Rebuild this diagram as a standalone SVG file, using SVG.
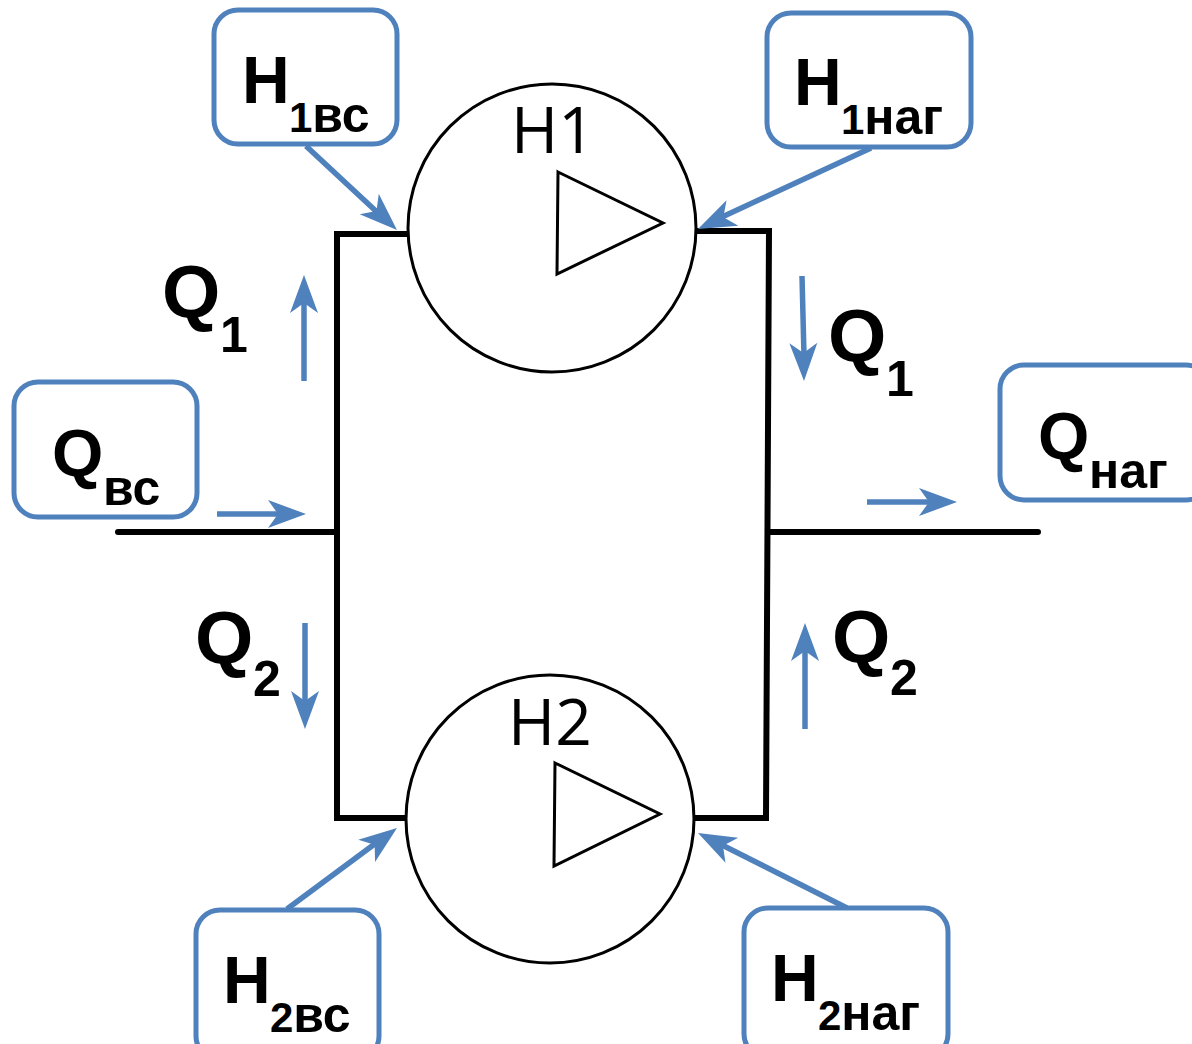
<svg xmlns="http://www.w3.org/2000/svg" width="1192" height="1044" viewBox="0 0 1192 1044">
<style>
.box{fill:#fff;stroke:#4f81bd;stroke-width:5}
.pipe{fill:none;stroke:#000;stroke-width:6;stroke-linecap:round;stroke-linejoin:miter}
.thin{fill:#fff;stroke:#000;stroke-width:3}
.tri{fill:none;stroke:#000;stroke-width:3;stroke-linejoin:miter}
.ar{fill:none;stroke:#4f81bd;stroke-width:5.5}
.ah{fill:#4f81bd;stroke:none}
.b{font-family:"Liberation Sans",Arial,sans-serif;font-weight:700;fill:#000}
.s{font-size:50px}
.n{font-family:"Open Sans","DejaVu Sans",sans-serif;font-size:64px;fill:#000}
</style>
<defs><path id="h" class="ah" d="M0,0 L-38,-14 L-28,0 L-38,14 Z"/></defs>
<rect width="1192" height="1044" fill="#fff"/>
<g id="pipes">
<path class="pipe" d="M410,234H337V818H406"/>
<path class="pipe" d="M694,231H769L766,818H694"/>
<path class="pipe" d="M118,532H337"/>
<path class="pipe" d="M768,532H1038"/>
</g>
<g id="pump1"><circle class="thin" cx="552" cy="228" r="144"/><path class="tri" d="M558,172L663,223L557,274Z"/><text class="n" x="553" y="153" text-anchor="middle">H1</text></g>
<g id="pump2"><circle class="thin" cx="550" cy="819" r="144"/><path class="tri" d="M555,763L660,814L554,866Z"/><text class="n" x="550" y="745" text-anchor="middle">H2</text></g>
<g id="connectors">
<path class="ar" d="M306,146L378,213"/><use href="#h" transform="translate(397,230) rotate(43)"/>
<path class="ar" d="M871,148L722,217"/><use href="#h" transform="translate(698,229) rotate(155)"/>
<path class="ar" d="M287,909L376,843"/><use href="#h" transform="translate(397,828) rotate(-37)"/>
<path class="ar" d="M847,908L722,845"/><use href="#h" transform="translate(698,833) rotate(207)"/>
<path class="ar" d="M304,381V300"/><use href="#h" transform="translate(304,275) rotate(-90)"/>
<path class="ar" d="M802,276L804,356"/><use href="#h" transform="translate(804,381) rotate(89)"/>
<path class="ar" d="M305,623V704"/><use href="#h" transform="translate(305,729) rotate(90)"/>
<path class="ar" d="M805,729V648"/><use href="#h" transform="translate(805,623) rotate(-90)"/>
<path class="ar" d="M217,514H281"/><use href="#h" transform="translate(306,514)"/>
<path class="ar" d="M867,502H932"/><use href="#h" transform="translate(957,502)"/>
</g>
<g id="h1vs"><rect class="box" x="214" y="10" width="183" height="134" rx="24"/><text class="b" x="242" y="103" font-size="66">H</text><text class="b" x="289" y="132" font-size="42">1<tspan class="s">вс</tspan></text></g>
<g id="h1nag"><rect class="box" x="767" y="13" width="204" height="134" rx="24"/><text class="b" x="794" y="105" font-size="66">H</text><text class="b" x="841" y="134" font-size="42">1<tspan class="s">наг</tspan></text></g>
<g id="qvs"><rect class="box" x="14" y="382" width="183" height="135" rx="24"/><text class="b" x="52" y="476" font-size="66">Q</text><text class="b s" x="103" y="505">вс</text></g>
<g id="qnag"><rect class="box" x="1000" y="365" width="210" height="135" rx="24"/><text class="b" x="1038" y="459" font-size="66">Q</text><text class="b s" x="1089" y="488">наг</text></g>
<g id="h2vs"><rect class="box" x="196" y="910" width="183" height="150" rx="24"/><text class="b" x="223" y="1003" font-size="66">H</text><text class="b" x="270" y="1032" font-size="42">2<tspan class="s">вс</tspan></text></g>
<g id="h2nag"><rect class="box" x="744" y="908" width="204" height="150" rx="24"/><text class="b" x="771" y="1001" font-size="66">H</text><text class="b" x="818" y="1030" font-size="42">2<tspan class="s">наг</tspan></text></g>
<g id="labels">
<text class="b" x="162" y="317" font-size="75">Q</text><text class="b" x="220" y="352" font-size="50">1</text>
<text class="b" x="828" y="361" font-size="75">Q</text><text class="b" x="886" y="396" font-size="50">1</text>
<text class="b" x="195" y="663" font-size="75">Q</text><text class="b" x="253" y="696" font-size="50">2</text>
<text class="b" x="832" y="662" font-size="75">Q</text><text class="b" x="890" y="695" font-size="50">2</text>
</g>
</svg>
